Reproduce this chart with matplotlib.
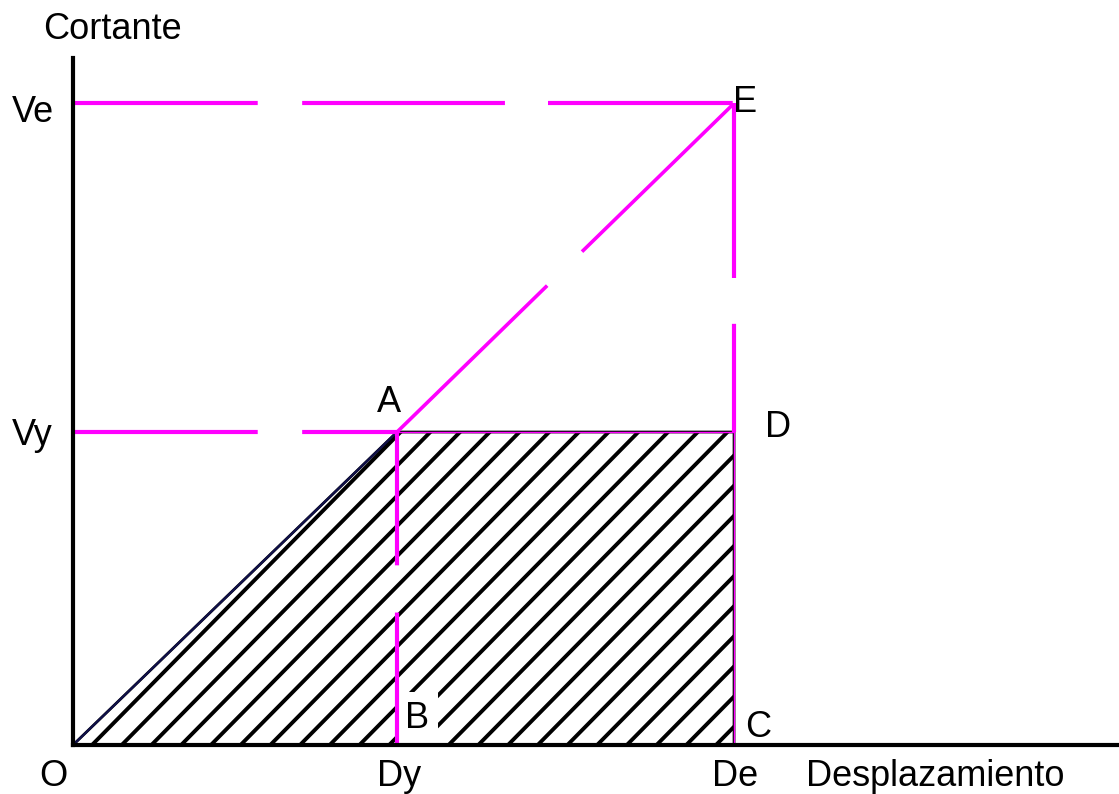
import numpy as np
import matplotlib.pyplot as plt
from matplotlib.patches import Polygon

plt.rcParams['font.family'] = ['Liberation Sans', 'DejaVu Sans']
plt.rcParams['lines.scale_dashes'] = False

# valores del diagrama (normalizados a Dy = Vy = 1)
dy = 1.0      # desplazamiento de fluencia
de = 2.04     # desplazamiento elastico
vy = 1.0      # cortante de fluencia
ve = 2.05     # cortante elastico

# rayado
hatch_slope = 1.05
hatch_step = 0.0917
hatch_start = 0.0586

magenta = '#ff00ff'
fs = 26

fig = plt.figure(figsize=(11.19, 7.94), dpi=100)
ax = fig.add_axes([73 / 1119, 49 / 794, 1046 / 1119, 687 / 794])
ax.set_xlim(0, 3.228)
ax.set_ylim(0, 2.195)
ax.set_xticks([])
ax.set_yticks([])
for s in ['top', 'right']:
    ax.spines[s].set_visible(False)
for s in ['left', 'bottom']:
    ax.spines[s].set_linewidth(3)
    ax.spines[s].set_zorder(6)

# area rayada O-A-D-C
poly = Polygon([(0, 0), (dy, vy), (de, vy), (de, 0)], closed=True,
               facecolor='white', edgecolor='black', lw=2.0, zorder=2)
ax.add_patch(poly)
x0 = hatch_start
while x0 < de:
    ln, = ax.plot([x0, x0 + 1.5 / hatch_slope], [0, 1.5], color='black',
                  lw=2.8, zorder=2.5, solid_capstyle='butt')
    ln.set_clip_path(poly)
    x0 += hatch_step
ax.plot([0, dy], [0, vy], color='#10104a', lw=1.6, zorder=3)

# lineas magenta
l1, = ax.plot([0, de], [ve, ve], color=magenta, lw=3, zorder=4)
l1.set_dashes((133, 32, 146, 31))
l2, = ax.plot([0, dy], [vy, vy], color=magenta, lw=3, zorder=4)
l2.set_dashes((133, 32, 146, 31))
l3, = ax.plot([dy, de], [vy, ve], color=magenta, lw=2.6, zorder=4)
l3.set_dashes((151, 35))
l4, = ax.plot([de, de], [ve, vy], color=magenta, lw=3, zorder=4)
l4.set_dashes((126, 33, 200, 10))
l5, = ax.plot([dy, dy], [vy, 0], color=magenta, lw=3, zorder=4)
l5.set_dashes((96, 34))
ax.plot([dy, de], [vy, vy], color=magenta, lw=1.0, zorder=4.5)
ax.plot([de, de], [vy, 0], color=magenta, lw=1.0, zorder=4.5)

# textos
kw = dict(fontsize=fs, ha='left', va='baseline', clip_on=False, zorder=7)
ax.text(-0.093, 2.256, 'Cortante', **kw)
ax.text(-0.188, 1.990, 'Ve', **kw)
ax.text(-0.188, 0.958, 'Vy', **kw)
ax.text(-0.105, -0.131, 'O', **kw)
ax.text(0.938, -0.131, 'Dy', **kw)
ax.text(1.972, -0.131, 'De', **kw)
ax.text(2.262, -0.131, 'Desplazamiento', **kw)
ax.text(0.938, 1.064, 'A', **kw)
ax.text(2.136, 0.984, 'D', **kw)
ax.text(2.037, 2.022, 'E', **kw)
ax.text(1.025, 0.054, 'B', fontsize=fs, ha='left', va='baseline', zorder=3.5,
        bbox=dict(facecolor='white', edgecolor='none',
                  boxstyle='square,pad=0.25'))
ax.text(2.074, 0.026, 'C', **kw)

fig.savefig('out.png', dpi=100)
